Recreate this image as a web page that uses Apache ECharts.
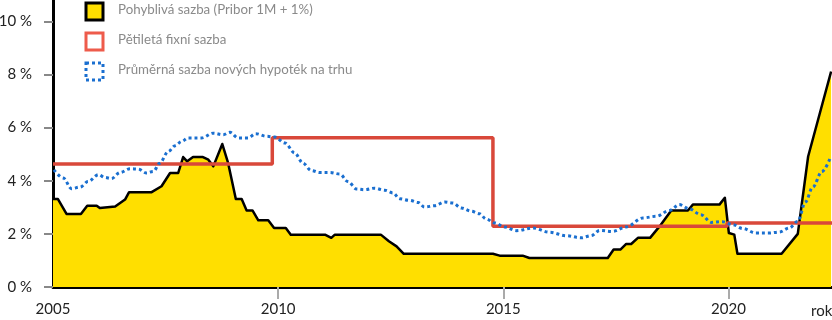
<!DOCTYPE html>
<html>
<head>
<meta charset="utf-8">
<script src="https://cdn.jsdelivr.net/npm/echarts@6/dist/echarts.min.js"></script>
<style>html,body{margin:0;padding:0;background:#fff}#c{width:832px;height:320px}</style>
</head>
<body>
<div id="c"></div>
<script>
// Series names
const seriesNames = ['Pohyblivá sazba (Pribor 1M + 1%)', 'Pětiletá fixní sazba', 'Průměrná sazba nových hypoték na trhu'];
const xTickYears = [2005, 2010, 2015, 2020];
const yTickValues = [0, 2, 4, 6, 8, 10];
const axisEndLabel = 'rok';

// Floating rate (Pribor 1M + 1 %) [year, %]
const pribor = [
  [2005.00,3.31],[2005.11,3.31],[2005.30,2.75],[2005.62,2.75],[2005.76,3.06],[2005.97,3.06],
  [2006.04,2.97],[2006.38,3.03],[2006.60,3.29],[2006.69,3.57],[2007.19,3.57],[2007.41,3.79],
  [2007.60,4.29],[2007.78,4.29],[2007.89,4.89],[2007.98,4.73],[2008.11,4.89],[2008.33,4.89],
  [2008.45,4.79],[2008.56,4.54],[2008.76,5.38],[2008.89,4.66],[2009.06,3.31],[2009.19,3.31],
  [2009.30,2.88],[2009.43,2.88],[2009.56,2.51],[2009.78,2.51],[2009.91,2.22],[2010.17,2.22],
  [2010.28,1.97],[2011.04,1.97],[2011.18,1.85],[2011.26,1.97],[2012.28,1.97],[2012.46,1.72],
  [2012.63,1.53],[2012.79,1.25],[2014.77,1.25],[2014.92,1.18],[2015.43,1.18],[2015.58,1.09],
  [2017.32,1.09],[2017.45,1.41],[2017.60,1.41],[2017.73,1.62],[2017.84,1.62],[2017.99,1.85],
  [2018.26,1.85],[2018.47,2.28],[2018.73,2.88],[2019.10,2.88],[2019.21,3.10],[2019.80,3.10],
  [2019.92,3.36],[2020.01,2.03],[2020.13,1.97],[2020.20,1.25],[2021.18,1.25],[2021.54,2.00],
  [2021.77,4.91],[2022.28,8.11]
];

// Five-year fixed rate [year, %]
const fixed5y = [
  [2005.00,4.63],[2009.87,4.63],[2009.87,5.62],[2014.77,5.62],[2014.77,2.29],
  [2019.97,2.29],[2019.97,2.41],[2022.30,2.41]
];

// Average rate of new mortgages [year, %]
const avgMarket = [
  [2005.02,4.41],[2005.23,4.10],[2005.41,3.70],[2005.60,3.76],[2005.78,3.97],[2006.01,4.23],
  [2006.15,4.12],[2006.30,4.08],[2006.49,4.31],[2006.71,4.45],[2006.89,4.44],[2007.08,4.29],
  [2007.23,4.35],[2007.37,4.66],[2007.56,5.10],[2007.71,5.32],[2007.86,5.48],[2008.00,5.61],
  [2008.30,5.61],[2008.56,5.79],[2008.78,5.73],[2008.93,5.82],[2009.11,5.61],[2009.33,5.61],
  [2009.50,5.77],[2009.74,5.67],[2009.93,5.64],[2010.15,5.42],[2010.37,5.04],[2010.55,4.66],
  [2010.74,4.38],[2010.92,4.31],[2011.15,4.31],[2011.37,4.25],[2011.55,3.97],[2011.74,3.69],
  [2011.92,3.66],[2012.14,3.72],[2012.37,3.64],[2012.55,3.54],[2012.70,3.32],[2012.92,3.26],
  [2013.11,3.18],[2013.25,3.01],[2013.48,3.06],[2013.70,3.20],[2013.88,3.16],[2014.07,2.97],
  [2014.29,2.85],[2014.47,2.76],[2014.62,2.56],[2014.81,2.41],[2015.03,2.26],[2015.29,2.12],
  [2015.66,2.22],[2016.03,2.06],[2016.40,1.93],[2016.73,1.85],[2016.95,1.93],[2017.14,2.13],
  [2017.43,2.09],[2017.73,2.26],[2018.10,2.60],[2018.40,2.66],[2018.69,2.88],[2018.91,3.10],
  [2019.13,2.94],[2019.39,2.72],[2019.62,2.43],[2019.86,2.46],[2020.09,2.35],[2020.32,2.20],
  [2020.61,2.03],[2020.91,2.03],[2021.13,2.07],[2021.35,2.22],[2021.54,2.47],[2021.71,3.20],
  [2021.87,3.75],[2022.08,4.35],[2022.26,4.85]
];

const FONT = 'Lato, "Noto Sans", sans-serif';
const chart = echarts.init(document.getElementById('c'), null, {renderer: 'canvas'});

const legendItems = [
  {fill: '#FFDF00', stroke: '#000000', dash: null},
  {fill: '#FFFFFF', stroke: '#EE5B4B', dash: null},
  {fill: '#FFFFFF', stroke: '#1A6FD0', dash: [3, 3]}
];
const graphic = [];
legendItems.forEach((it, i) => {
  graphic.push({
    type: 'rect', left: 84.5, top: 1.5 + i * 30,
    shape: {width: 17, height: 17},
    style: {fill: it.fill, stroke: it.stroke, lineWidth: 3, lineDash: it.dash},
    z: 100
  });
  graphic.push({
    type: 'text', left: 118, top: 3 + i * 30,
    style: {text: seriesNames[i], fill: '#8a8a8a', font: '13.3px ' + FONT},
    z: 100
  });
});
graphic.push({
  type: 'text', left: 811, top: 304,
  style: {text: axisEndLabel, fill: '#222', font: '15px ' + FONT}
});

chart.setOption({
  animation: false,
  backgroundColor: '#fff',
  grid: {left: 53, right: 0, top: 0, bottom: 33, containLabel: false, outerBoundsMode: 'none'},
  graphic: graphic,
  xAxis: {
    type: 'value', min: 2005, max: 2022.3, interval: 5,
    axisLine: {show: true, onZero: false, lineStyle: {color: '#000', width: 3}},
    axisTick: {show: true, length: 12, lineStyle: {color: '#aaa', width: 2},
      customValues: xTickYears.slice(1)},
    axisLabel: {
      color: '#222', fontSize: 15, fontFamily: FONT, margin: 15,
      customValues: xTickYears,
      formatter: v => String(Math.round(v))
    },
    splitLine: {show: false}
  },
  yAxis: {
    type: 'value', min: 0, max: 10.8, interval: 2,
    axisLine: {show: true, lineStyle: {color: '#000', width: 3}},
    axisTick: {show: true, length: 9, lineStyle: {color: '#888', width: 2},
      customValues: yTickValues},
    axisLabel: {
      color: '#222', fontSize: 15, fontFamily: FONT, margin: 21,
      customValues: yTickValues,
      formatter: v => v + ' %'
    },
    splitLine: {show: false}
  },
  series: [
    {
      name: seriesNames[0], type: 'line', data: pribor, symbol: 'none',
      lineStyle: {color: '#000', width: 2.5, join: 'round'},
      areaStyle: {color: '#FFDF00', opacity: 1},
      z: 1
    },
    {
      name: seriesNames[1], type: 'line', data: fixed5y, symbol: 'none',
      lineStyle: {color: '#D9483A', width: 3.5},
      z: 3
    },
    {
      name: seriesNames[2], type: 'line', data: avgMarket, symbol: 'none',
      smooth: 0.35, smoothMonotone: 'x',
      lineStyle: {color: '#1A6FD0', width: 3, type: [3, 3]},
      z: 4
    }
  ]
});
</script>
</body>
</html>
